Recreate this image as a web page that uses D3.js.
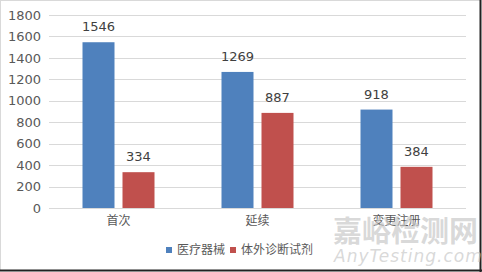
<!DOCTYPE html>
<html>
<head>
<meta charset="utf-8">
<script src="https://cdn.jsdelivr.net/npm/d3@7"></script>
<style>
  body { margin: 0; background: #fff; }
  text { font-family: "DejaVu Sans", sans-serif; }
</style>
</head>
<body>
<div id="main"></div>
<script>
var categories = ["首次", "延续", "变更注册"];
var seriesNames = ["医疗器械", "体外诊断试剂"];
var deviceValues = [1546, 1269, 918];
var ivdValues = [334, 887, 384];
var yTicks = [0, 200, 400, 600, 800, 1000, 1200, 1400, 1600, 1800];

var W = 482, H = 272;
var margin = { top: 15, left: 49, right: 16, bottom: 64 };
var colors = ["#4f81bd", "#c0504d"];

var svg = d3.select("#main").append("svg")
	.attr("width", W)
	.attr("height", H);

// frame
svg.append("rect").attr("x", 0.5).attr("y", 0.5).attr("width", W - 2).attr("height", H - 2)
	.attr("fill", "#fff").attr("stroke", "#d9d9d9");
svg.append("line").attr("x1", W - 1.5).attr("x2", W - 1.5).attr("y1", 0).attr("y2", H)
	.attr("stroke", "#222").attr("stroke-width", 2);
svg.append("line").attr("x1", 0).attr("x2", W).attr("y1", H - 1.5).attr("y2", H - 1.5)
	.attr("stroke", "#222").attr("stroke-width", 2);

var x = d3.scaleBand()
	.domain(categories)
	.range([margin.left, W - margin.right]);

var y = d3.scaleLinear()
	.domain([0, 1800])
	.range([208, margin.top]);

// grid
svg.append("g").selectAll("line")
	.data(yTicks)
	.enter().append("line")
	.attr("x1", margin.left).attr("x2", W - margin.right)
	.attr("y1", function(d) { return Math.round(y(d)) + 0.5; })
	.attr("y2", function(d) { return Math.round(y(d)) + 0.5; })
	.attr("stroke", "#d9d9d9");

// y axis labels
var yAxis = d3.axisLeft(y).tickValues(yTicks).tickFormat(d3.format("d")).tickSize(0).tickPadding(8);
var ga = svg.append("g").attr("transform", "translate(" + margin.left + ",0)").call(yAxis);
ga.select(".domain").remove();
ga.selectAll("text").attr("fill", "#595959").style("font-size", "13px")
	.style("font-family", "DejaVu Sans, sans-serif");

// x axis labels
var xAxis = d3.axisBottom(x).tickSize(0).tickPadding(8);
var gx = svg.append("g").attr("transform", "translate(0,208)").call(xAxis);
gx.select(".domain").remove();
gx.selectAll("text").attr("fill", "#595959").style("font-size", "12px")
	.style("font-family", "Noto Sans CJK SC, sans-serif");

// bars
var inner = d3.scaleBand().domain([0, 1]).range([-36, 36]).paddingInner(0.2);
var series = [deviceValues, ivdValues];

series.forEach(function(vals, si) {
	var g = svg.append("g");
	g.selectAll("rect")
		.data(vals)
		.enter().append("rect")
		.attr("x", function(d, i) { return x(categories[i]) + x.bandwidth() / 2 + inner(si); })
		.attr("y", function(d) { return y(d); })
		.attr("width", inner.bandwidth())
		.attr("height", function(d) { return y(0) - y(d); })
		.attr("fill", colors[si]);
	g.selectAll("text")
		.data(vals)
		.enter().append("text")
		.attr("x", function(d, i) { return x(categories[i]) + x.bandwidth() / 2 + inner(si) + inner.bandwidth() / 2; })
		.attr("y", function(d) { return y(d) - 11; })
		.attr("text-anchor", "middle")
		.attr("fill", "#404040")
		.style("font-size", "13px")
		.text(function(d) { return d; });
});

// watermark
svg.append("text").attr("x", 333).attr("y", 242)
	.attr("fill", "#c8c8c8").attr("fill-opacity", 0.7)
	.style("font-size", "29px").style("font-family", "Noto Sans CJK SC, sans-serif")
	.style("font-weight", "bold")
	.text("嘉峪检测网");
svg.append("text").attr("x", 334).attr("y", 262)
	.attr("fill", "#c8c8c8").attr("fill-opacity", 0.7)
	.style("font-size", "17px").style("font-style", "italic")
	.style("letter-spacing", "1px")
	.text("AnyTesting.com");

// legend
var legend = svg.append("g").attr("transform", "translate(166,250)");
var lx = [0, 64];
seriesNames.forEach(function(name, i) {
	legend.append("rect").attr("x", lx[i]).attr("y", -3).attr("width", 6).attr("height", 6)
		.attr("fill", colors[i]);
	legend.append("text").attr("x", lx[i] + 11).attr("y", 0).attr("dy", "0.35em")
		.attr("fill", "#595959").style("font-size", "12px")
		.style("font-family", "Noto Sans CJK SC, sans-serif")
		.text(name);
});
</script>
</body>
</html>
